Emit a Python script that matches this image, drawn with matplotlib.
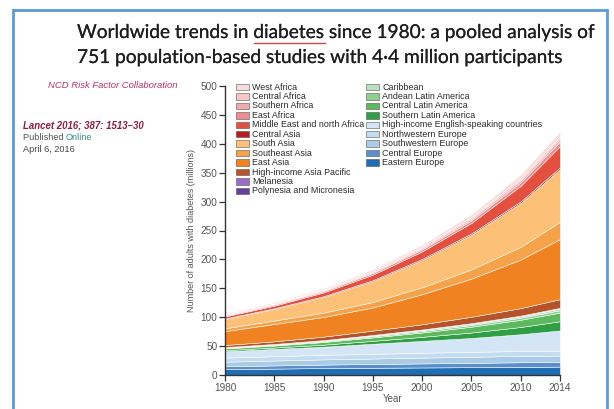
import matplotlib
matplotlib.use("Agg")
import matplotlib.pyplot as plt
from matplotlib.patches import Rectangle
from matplotlib.lines import Line2D
import matplotlib.patheffects as pe

W, H = 614, 409

years = [1980, 1985, 1990, 1995, 2000, 2005, 2010, 2014]

# Regions, bottom of stack first (millions of adults with diabetes)
eastern_europe      = [10, 11, 12, 12.5, 13, 13.5, 14, 14.5]
central_europe      = [5, 5.5, 6, 6.5, 7, 7.5, 8, 8]
southwestern_europe = [8, 8.5, 9, 9.5, 10, 10.5, 11, 11]
northwestern_europe = [7, 7.5, 8, 8, 8.5, 8.5, 8.5, 8.5]
hi_english          = [11, 12.5, 14, 17.5, 20.5, 24, 29, 35]
southern_latam      = [2, 2.5, 3.5, 5, 7, 9.5, 12.5, 16]
central_latam       = [3, 3.5, 4.5, 6, 7.5, 10, 12.5, 15]
andean_latam        = [1, 1.2, 1.5, 2, 2.5, 3, 3.5, 4]
caribbean           = [1, 1.2, 1.4, 1.7, 2, 2.3, 2.6, 3]
polynesia           = [0.1, 0.1, 0.15, 0.2, 0.25, 0.3, 0.35, 0.4]
melanesia           = [0.2, 0.25, 0.3, 0.4, 0.5, 0.6, 0.7, 0.8]
hi_asia_pacific     = [3.5, 4.5, 6, 7.5, 9, 11, 13, 15]
east_asia           = [24, 30, 34, 40, 52, 66, 84, 104]
southeast_asia      = [5, 6, 7.5, 9.5, 12, 16, 22, 30]
south_asia          = [16, 20, 27, 36, 47, 60, 76, 91]
central_asia        = [1, 1.2, 1.5, 1.8, 2, 2.3, 2.6, 3]
mena                = [3.5, 4.5, 6.5, 9.5, 13, 18, 27, 37]
east_africa         = [1.5, 1.8, 2.2, 2.8, 3.5, 4.5, 6, 8]
southern_africa     = [1, 1.2, 1.5, 1.9, 2.5, 3, 4, 5]
central_africa      = [1, 1.2, 1.4, 1.8, 2.3, 3, 3.6, 4]
west_africa         = [1.5, 1.8, 2.2, 2.8, 3.5, 4.5, 6, 8]

stack_names = ["Eastern Europe", "Central Europe", "Southwestern Europe",
               "Northwestern Europe", "High-income English-speaking countries",
               "Southern Latin America", "Central Latin America",
               "Andean Latin America", "Caribbean",
               "Polynesia and Micronesia", "Melanesia", "High-income Asia Pacific",
               "East Asia", "Southeast Asia", "South Asia", "Central Asia",
               "Middle East and north Africa", "East Africa", "Southern Africa",
               "Central Africa", "West Africa"]
stack_values = [eastern_europe, central_europe, southwestern_europe,
                northwestern_europe, hi_english, southern_latam, central_latam,
                andean_latam, caribbean, polynesia, melanesia, hi_asia_pacific,
                east_asia, southeast_asia, south_asia, central_asia, mena,
                east_africa, southern_africa, central_africa, west_africa]
stack_colors = ["#1f6db2", "#5a8fcc", "#a9cbe6", "#c4dcef", "#d4e6f5",
                "#2f9e44", "#5db95f", "#8fcf8f", "#b9e0c0",
                "#6a3d9a", "#9b6bc8", "#b5542a",
                "#f08222", "#f6a24a", "#fcc177", "#b81c24",
                "#e4503f", "#ee8c8e", "#f2a9ab", "#f6c6c7", "#f8dcdd"]

legend_col1 = ["West Africa", "Central Africa", "Southern Africa", "East Africa",
               "Middle East and north Africa", "Central Asia", "South Asia",
               "Southeast Asia", "East Asia", "High-income Asia Pacific",
               "Melanesia", "Polynesia and Micronesia"]
legend_col2 = ["Caribbean", "Andean Latin America", "Central Latin America",
               "Southern Latin America", "High-income English-speaking countries",
               "Northwestern Europe", "Southwestern Europe", "Central Europe",
               "Eastern Europe"]

xticks = [1980, 1985, 1990, 1995, 2000, 2005, 2010, 2014]
yticks = list(range(0, 501, 50))

title1 = "Worldwide trends in diabetes since 1980: a pooled analysis of"
title2 = "751 population-based studies with 4\u00b74 million participants"

fig = plt.figure(figsize=(W / 100, H / 100), dpi=100)
fig.patch.set_facecolor("white")

def fx(x):
    return x / W

def fy(y):
    return 1 - y / H

# Blue frame
fig.add_artist(Rectangle((fx(13), fy(430)), fx(607) - fx(13), fy(10) - fy(430),
                         transform=fig.transFigure, fill=False,
                         edgecolor="#5b9bd5", linewidth=2.0, clip_on=False))

# Title
renderer = fig.canvas.get_renderer()
tfont = ["Lato", "DejaVu Sans"]
bold_fx = [pe.withStroke(linewidth=0.12, foreground="#1e1e1e")]
t1 = fig.text(fx(77), fy(38), title1, fontsize=14, family=tfont,
              color="#1e1e1e", va="baseline", ha="left")
w = t1.get_window_extent(renderer).width
fs = 14 * 520 / w
t1.set_fontsize(fs)
t1.set_path_effects(bold_fx)
t2 = fig.text(fx(77), fy(63), title2, fontsize=fs, family=tfont,
              color="#1e1e1e", va="baseline", ha="left", path_effects=bold_fx)
# red underline under "diabetes"
tmp = fig.text(0, 0, "Worldwide trends in diabetes", fontsize=fs, family=tfont)
wa = tmp.get_window_extent(renderer).width
tmp.set_text("diabetes")
wb = tmp.get_window_extent(renderer).width
tmp.remove()
x0 = 77 + wa - wb
fig.add_artist(Line2D([fx(x0), fx(x0 + wb)], [fy(42.5), fy(42.5)],
                      transform=fig.transFigure, color="#d9434a", linewidth=1.0))

# Left side text
sfont = ["Liberation Sans", "DejaVu Sans"]
fig.text(fx(113), fy(85), "NCD Risk Factor Collaboration", fontsize=6.8,
         family=sfont, style="italic", color="#b8336f", ha="center", va="center")
fig.text(fx(23), fy(126), "Lancet 2016; 387: 1513\u201330", fontsize=6.9,
         family=sfont, style="italic", weight="bold", color="#8e1d3d",
         ha="left", va="center")
tp = fig.text(fx(23), fy(137.5), "Published ", fontsize=6.6, family=sfont,
              color="#555555", ha="left", va="center")
wp = tp.get_window_extent(renderer).width
fig.text(fx(23 + wp), fy(137.5), "Online", fontsize=6.6, family=sfont,
         color="#3a8a8a", ha="left", va="center")
fig.text(fx(23), fy(150), "April 6, 2016", fontsize=6.6, family=sfont,
         color="#444444", ha="left", va="center")

# Chart
ax = fig.add_axes([fx(225), fy(375), fx(560) - fx(225), fy(86) - fy(375)])
ax.stackplot(years, *stack_values, colors=stack_colors,
             edgecolor="white", linewidth=0.35)
ax.set_xlim(1980, 2014)
ax.set_ylim(0, 500)
for s in ["top", "right"]:
    ax.spines[s].set_visible(False)
for s in ["left", "bottom"]:
    ax.spines[s].set_color("#333333")
    ax.spines[s].set_linewidth(1.0)
ax.set_xticks(xticks)
ax.set_yticks(yticks)
ax.tick_params(direction="out", length=4, width=0.9, color="#333333",
               labelsize=7.2, labelcolor="#555555", pad=1.5)
for lab in ax.get_xticklabels() + ax.get_yticklabels():
    lab.set_family(sfont)
ax.set_xlabel("Year", fontsize=7, color="#555555", family=sfont, labelpad=1)
ax.set_ylabel("Number of adults with diabetes (millions)", fontsize=6.5,
              color="#555555", family=sfont, labelpad=3)

# Legend (manual, two columns)
color_of = dict(zip(stack_names, stack_colors))
lfont = ["Liberation Sans Narrow", "Liberation Sans", "DejaVu Sans"]
def draw_col(names, xpatch, xtext):
    for i, name in enumerate(names):
        yc = 87 + i * 9.45
        fig.add_artist(Rectangle((fx(xpatch), fy(yc + 3.2)), 13 / W, 6.4 / H,
                                 transform=fig.transFigure,
                                 facecolor=color_of[name], edgecolor="#555555",
                                 linewidth=0.4))
        fig.text(fx(xtext), fy(yc), name, fontsize=6.4, family=lfont,
                 color="#2a2a2a", ha="left", va="center")
draw_col(legend_col1, 236, 252)
draw_col(legend_col2, 366, 382)

fig.savefig("out.png", dpi=100)
